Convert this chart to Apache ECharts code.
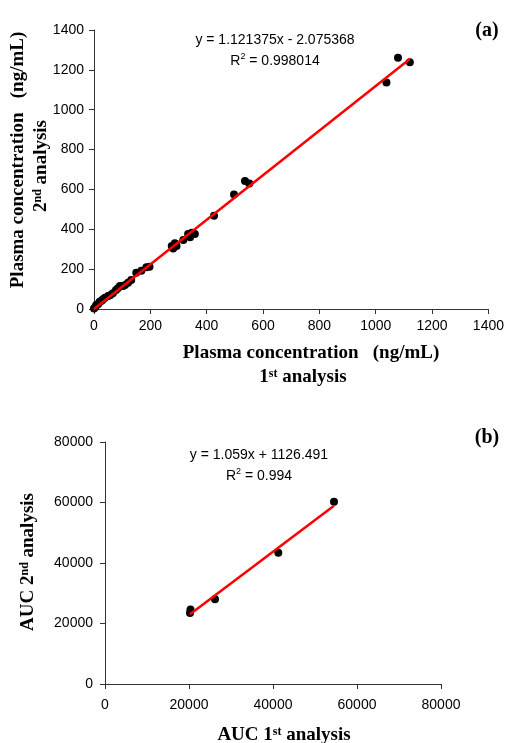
<!DOCTYPE html>
<html>
<head>
<meta charset="utf-8">
<script src="https://cdn.jsdelivr.net/npm/echarts@6/dist/echarts.min.js"></script>
<style>html,body{margin:0;padding:0;background:#fff}#c{width:507px;height:743px}</style>
</head>
<body>
<div id="c"></div>
<script>
// Panel (a): plasma concentration, 1st vs 2nd analysis (ng/mL)
const concFirst  = [0,5,8,15,20,27,32,39,50,57,67,78,85,92,103,110,121,132,150,168,186,197,276,281,287,293,317,334,341,347,358,426,497,536,551,1038,1079,1121];
const concSecond = [3,10,20,25,37,42,49,57,65,69,79,95,104,115,115,120,132,146,182,192,209,212,316,303,330,316,346,376,360,383,376,468,575,642,630,1136,1261,1238];
const concFitX = [0, 1121];
const concFitY = [0, 1255];
const concTicks = [0,200,400,600,800,1000,1200,1400];

// Panel (b): AUC, 1st vs 2nd analysis
const aucFirst  = [20357,20238,26190,41262,54524];
const aucSecond = [24628,23471,28000,43405,60264];
const aucFitX = [20238, 54524];
const aucFitY = [23040, 58942];
const aucTicks = [0,20000,40000,60000,80000];

const eqA = 'y = 1.121375x - 2.075368';
const r2A = ' = 0.998014';
const eqB = 'y = 1.059x + 1126.491';
const r2B = ' = 0.994';

const SANS = '"Liberation Sans", Arial, sans-serif';
const SERIF = '"Liberation Serif", "Times New Roman", serif';

function pairs(xs, ys){ return xs.map((x,i)=>[x, ys[i]]); }

function axisCommon(ticks, margin){
  return {
    type:'value', min:ticks[0], max:ticks[ticks.length-1], interval:ticks[1]-ticks[0],
    axisLine:{show:true, onZero:false, lineStyle:{color:'#333', width:1}},
    axisTick:{show:true, inside:false, length:5, lineStyle:{color:'#333'}},
    axisLabel:{color:'#000', fontSize:14, fontFamily:SANS, margin:margin, formatter:function(v){return String(v);}},
    splitLine:{show:false}
  };
}

const titleRich = {
  b:{fontFamily:SERIF, fontWeight:'bold', fontSize:19, color:'#000', verticalAlign:'bottom'},
  s:{fontFamily:SERIF, fontWeight:'bold', fontSize:12, color:'#000', verticalAlign:'top'}
};
const eqRich = {
  n:{fontFamily:SANS, fontSize:14, color:'#000', verticalAlign:'bottom', lineHeight:16},
  s:{fontFamily:SANS, fontSize:9, color:'#000', verticalAlign:'top'}
};

function txt(x, y, text, rich, rot){
  return {
    type:'text', x:x, y:y, rotation: rot || 0,
    style:{text:text, rich:rich, align:'center', verticalAlign:'middle', textAlign:'center', textVerticalAlign:'middle'}
  };
}

const chart = echarts.init(document.getElementById('c'), null, {renderer:'canvas'});
chart.setOption({
  animation:false,
  backgroundColor:'#fff',
  grid:[
    {left:94, right:18, top:30, bottom:434, containLabel:false},
    {left:105, right:66, top:442, bottom:59, containLabel:false}
  ],
  xAxis:[
    Object.assign(axisCommon(concTicks, 10), {gridIndex:0}),
    Object.assign(axisCommon(aucTicks, 14), {gridIndex:1})
  ],
  yAxis:[
    Object.assign(axisCommon(concTicks, 10), {gridIndex:0}),
    Object.assign(axisCommon(aucTicks, 12), {gridIndex:1})
  ],
  series:[
    {type:'scatter', xAxisIndex:0, yAxisIndex:0, data:pairs(concFirst, concSecond),
     symbol:'circle', symbolSize:8, itemStyle:{color:'#000', opacity:1}, z:2},
    {type:'line', xAxisIndex:0, yAxisIndex:0, data:pairs(concFitX, concFitY),
     showSymbol:false, symbol:'none', lineStyle:{color:'#ff0000', width:2.5}, z:3},
    {type:'scatter', xAxisIndex:1, yAxisIndex:1, data:pairs(aucFirst, aucSecond),
     symbol:'circle', symbolSize:8, itemStyle:{color:'#000', opacity:1}, z:2},
    {type:'line', xAxisIndex:1, yAxisIndex:1, data:pairs(aucFitX, aucFitY),
     showSymbol:false, symbol:'none', lineStyle:{color:'#ff0000', width:2.5}, z:3}
  ],
  graphic:[
    txt(18, 160, '{b|Plasma concentration   (ng/mL)}', titleRich, Math.PI/2),
    txt(41, 166, '{b|2}{s|nd}{b| analysis}', titleRich, Math.PI/2),
    txt(311, 353, '{b|Plasma concentration   (ng/mL)}', titleRich),
    txt(303, 377, '{b|1}{s|st}{b| analysis}', titleRich),
    txt(487, 31, '{b|(a)}', {b:{fontFamily:SERIF, fontWeight:'bold', fontSize:20, color:'#000'}}),
    txt(275, 39, '{n|' + eqA + '}', eqRich),
    txt(275, 60, '{n|R}{s|2}{n|' + r2A + '}', eqRich),
    txt(28, 562, '{b|AUC 2}{s|nd}{b| analysis}', titleRich, Math.PI/2),
    txt(284, 735, '{b|AUC 1}{s|st}{b| analysis}', titleRich),
    txt(487, 438, '{b|(b)}', {b:{fontFamily:SERIF, fontWeight:'bold', fontSize:20, color:'#000'}}),
    txt(259, 454, '{n|' + eqB + '}', eqRich),
    txt(259, 475, '{n|R}{s|2}{n|' + r2B + '}', eqRich)
  ]
});
</script>
</body>
</html>
